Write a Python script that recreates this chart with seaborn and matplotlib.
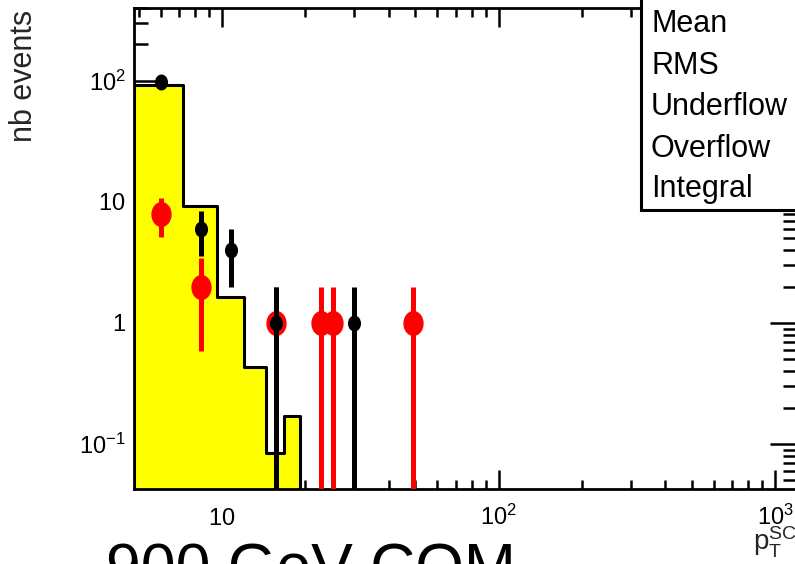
import numpy as np
import pandas as pd
import matplotlib
matplotlib.use("Agg")
import matplotlib.pyplot as plt
import seaborn as sns
from matplotlib.path import Path
from matplotlib.patches import Rectangle
from matplotlib.ticker import FixedLocator, FixedFormatter, LogLocator, NullFormatter

# ---------------- data ----------------
bin_edges = [4.8, 7.2, 9.6, 12.0, 14.4, 16.8, 19.2]
mc_counts = [92.0, 9.3, 1.64, 0.43, 0.084, 0.17]

black_pt = [6.0, 8.4, 10.8, 15.6, 30.0]
black_n = [97, 6, 4, 1, 1]

red_pt = [6.0, 8.4, 15.6, 22.8, 25.2, 49.2]
red_n = [8, 2, 1, 1, 1, 1]

xtick_vals = [10, 100, 1000]
xtick_labels = [r"$\mathregular{10}$", r"$\mathregular{10^{2}}$", r"$\mathregular{10^{3}}$"]
ytick_vals = [0.1, 1, 10, 100]
ytick_labels = [r"$\mathregular{10^{-1}}$", r"$\mathregular{1}$", r"$\mathregular{10}$", r"$\mathregular{10^{2}}$"]

stats_labels = ["Mean", "RMS", "Underflow", "Overflow", "Integral"]
title_text = "900 GeV COM"
x_title = r"$\mathregular{p}_{\mathregular{T}}^{\mathregular{SC}}$"
y_title = "nb events"

# ---------------- style ----------------
sns.set_theme(style="ticks")
plt.rcParams["font.family"] = ["Liberation Sans", "DejaVu Sans"]
plt.rcParams["mathtext.fontset"] = "custom"
plt.rcParams["mathtext.rm"] = "Liberation Sans"
plt.rcParams["mathtext.it"] = "Liberation Sans:italic"
plt.rcParams["mathtext.bf"] = "Liberation Sans:bold"

W, H = 795, 564
fig = plt.figure(figsize=(W / 100, H / 100), dpi=100)
fig.patch.set_facecolor("white")
ax_l, ax_r, ax_t, ax_b = 134, 797, 8, 489
ax = fig.add_axes([ax_l / W, (H - ax_b) / H, (ax_r - ax_l) / W, (ax_b - ax_t) / H])
ax.set_facecolor("white")

# histogram (MC)
edges = np.array(bin_edges)
centers = 0.5 * (edges[:-1] + edges[1:])
df = pd.DataFrame({"pt": centers, "w": mc_counts})
sns.histplot(data=df, x="pt", weights="w", bins=bin_edges, element="step",
             fill=True, color="#ffff00", alpha=1, edgecolor="black",
             linewidth=2.2, ax=ax)

# ellipse marker (ROOT picture is slightly squeezed horizontally)
circ = Path.unit_circle()
ell = Path(circ.vertices * np.array([0.8, 1.0]), circ.codes)

red_arr = np.array(red_n, dtype=float)
ax.errorbar(red_pt, red_arr, yerr=np.sqrt(red_arr), fmt="none",
            ecolor="#ff0000", elinewidth=3.6, capsize=0, zorder=3)
ax.plot(red_pt, red_arr, ls="none", marker=ell, ms=17, color="#ff0000",
        mec="#ff0000", zorder=3.1)

blk_arr = np.array(black_n, dtype=float)
ax.errorbar(black_pt, blk_arr, yerr=np.sqrt(blk_arr), fmt="none",
            ecolor="black", elinewidth=3.6, capsize=0, zorder=4)
ax.plot(black_pt, blk_arr, ls="none", marker=ell, ms=10.5, color="black",
        mec="black", zorder=4.1)

ax.set_xscale("log")
ax.set_yscale("log")
ax.set_xlim(4.8, 1200)
ax.set_ylim(0.0425, 400)

ax.xaxis.set_major_locator(FixedLocator(xtick_vals))
ax.xaxis.set_major_formatter(FixedFormatter(xtick_labels))
ax.xaxis.set_minor_locator(LogLocator(base=10, subs=np.arange(2, 10), numticks=20))
ax.xaxis.set_minor_formatter(NullFormatter())
ax.yaxis.set_major_locator(FixedLocator(ytick_vals))
ax.yaxis.set_major_formatter(FixedFormatter(ytick_labels))
ax.yaxis.set_minor_locator(LogLocator(base=10, subs=np.arange(2, 10), numticks=20))
ax.yaxis.set_minor_formatter(NullFormatter())

ax.tick_params(which="both", direction="in", top=True, right=True,
               width=1.8, color="black", labelcolor="black", labelsize=17)
ax.tick_params(axis="x", which="major", length=13.5, pad=26)
ax.tick_params(axis="x", which="minor", length=6.5)
ax.tick_params(axis="y", which="major", length=19.5, pad=6)
ax.tick_params(axis="y", which="minor", length=10)

for sp in ax.spines.values():
    sp.set_visible(True)
    sp.set_linewidth(2.0)
    sp.set_color("black")

ax.set_xlabel(x_title, fontsize=20, loc="right")
ax.xaxis.set_label_coords(1.0, -0.074)
ax.set_ylabel(y_title, fontsize=22, loc="top")
ax.yaxis.set_label_coords(-0.143, 0.996)

for t in ax.xaxis.get_major_ticks():
    t.label1.set_verticalalignment("baseline")

# statistics box (cut by the picture edge)
box = Rectangle((641 / W, (H - 210) / H), 0.4, 0.5, transform=fig.transFigure,
                facecolor="white", edgecolor="black", linewidth=2.2,
                clip_on=False, zorder=5)
fig.add_artist(box)
base_y = [32, 74, 115, 157, 197]
for lab, by in zip(stats_labels, base_y):
    fig.text(651 / W, (H - by) / H, lab, fontsize=22, ha="left",
             va="baseline", color="black", zorder=6)

fig.text(105.5 / W, (H - 587) / H, title_text, fontsize=45, ha="left",
         va="baseline", color="black")

fig.savefig("out.png", dpi=100)
